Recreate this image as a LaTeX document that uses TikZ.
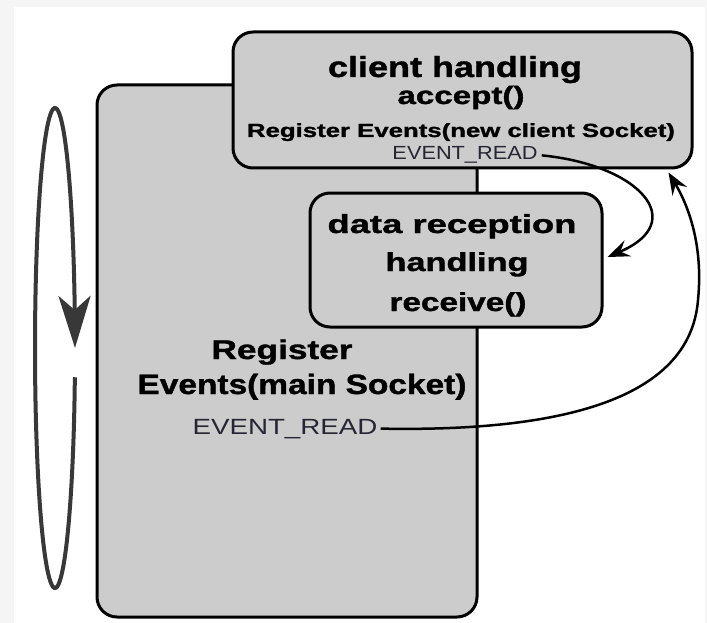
\documentclass[tikz,border=0pt]{standalone}
\usepackage{fontspec}
\setmainfont{Liberation Sans}[BoldFeatures={FakeBold=1.2}]
\usetikzlibrary{arrows.meta,calc}
\definecolor{boxgray}{HTML}{CCCCCC}
\definecolor{bgout}{HTML}{F5F5F5}
\definecolor{evcol}{HTML}{262633}
\definecolor{loopcol}{HTML}{383838}
\newcommand{\fitx}[3]{{\fontsize{#2}{#2}\selectfont\resizebox{#1pt}{\height}{#3}}}
\begin{document}
\begin{tikzpicture}[x=1pt,y=-1pt,
  box/.style={draw=black,line width=3pt,fill=boxgray,rounded corners=20pt,inner sep=0pt},
  lbl/.style={anchor=base,inner sep=0pt,font=\bfseries,text=black},
  evlbl/.style={anchor=base,inner sep=0pt,text=evcol},
  conn/.style={line width=2.5pt,-{Stealth[length=22pt,width=17pt,inset=8pt]}},
  loopline/.style={draw=loopcol,line width=4pt,-{Stealth[length=52pt,width=32pt,inset=14pt]}}]
\fill[bgout] (0,0) rectangle (707,623);
\fill[white] (14,7) rectangle (705,623);
\useasboundingbox (0,0) rectangle (707,623);
% boxes
\node[box,minimum width=380pt,minimum height=532pt] (main) at (287,351) {};
\node[box,minimum width=459pt,minimum height=136pt] (client) at (462.5,100) {};
\node[box,minimum width=292pt,minimum height=134pt] (data) at (456,260) {};
% client box texts
\node[lbl] (c1) at (455,77) {\fitx{254}{29}{client handling}};
\node[lbl] (c2) at (461,104) {\fitx{127}{25}{accept()}};
\node[lbl] (c3) at (461,137) {\fitx{428}{19}{Register Events(new client Socket)}};
\node[evlbl] (ev1) at (465,160) {\fitx{145}{19}{EVENT\_READ}};
% data box texts
\node[lbl] (d1) at (452,233) {\fitx{249}{26}{data reception}};
\node[lbl] (d2) at (457,271) {\fitx{143}{26}{handling}};
\node[lbl] (d3) at (458,311) {\fitx{137}{26}{receive()}};
% main box texts
\node[lbl] (m1) at (282,359) {\fitx{141}{27}{Register}};
\node[lbl] (m2) at (302,394) {\fitx{329}{28}{Events(main Socket)}};
\node[evlbl] (ev2) at (285,434) {\fitx{185}{22}{EVENT\_READ}};
% connectors
\coordinate (tip1) at ($(data.east)+(4pt,3pt)$);
\coordinate (tip2) at ([shift={(-25pt,-3pt)}]client.south east);
\draw[conn] ([xshift=4pt]ev1.east) .. controls (640,165) and (690,222) .. (tip1);
\draw[conn] ([xshift=3pt]ev2.east) .. controls (560,432) and (690,400) .. (698,300)
  .. controls (704,240) and (685,200) .. (tip2);
% loop
\draw[loopline] plot[domain=7:348,samples=150] ({55+20*cos(\x)},{348+240*sin(\x)}) -- (75,348);
\end{tikzpicture}
\end{document}
